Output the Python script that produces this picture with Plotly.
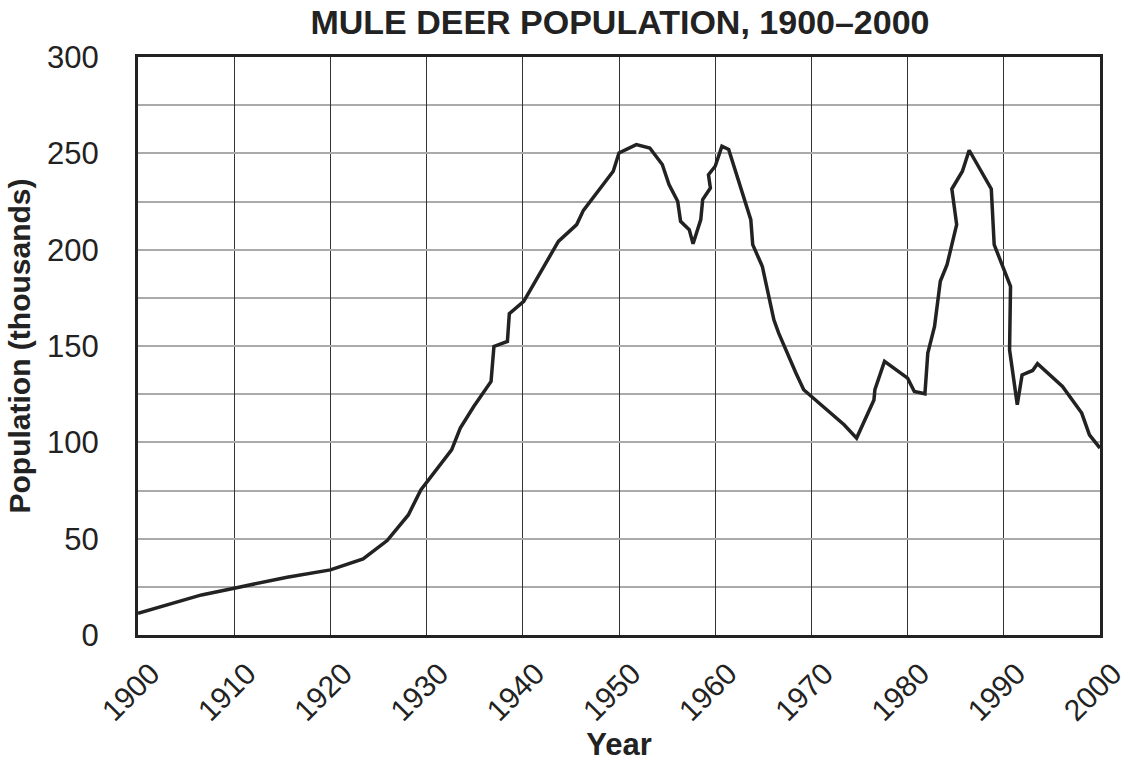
import plotly.graph_objects as go

years = [1900, 1906.6, 1910, 1915.5, 1920, 1923.4, 1925.9, 1928.1, 1929.4, 1932.6, 1933.5,
         1934.9, 1936.7, 1937.0, 1938.4, 1938.6, 1940.1, 1943.7, 1945.6, 1946.3, 1949.4,
         1950.0, 1951.8, 1953.2, 1954.5, 1955.2, 1956.1, 1956.4, 1957.3, 1957.7, 1958.5,
         1958.7, 1959.5, 1959.3, 1960.0, 1960.7, 1961.4, 1963.7, 1963.9, 1964.9, 1966.1,
         1966.6, 1968.4, 1969.2, 1971.0, 1973.4, 1974.7, 1976.5, 1976.6, 1977.6, 1980.0,
         1980.7, 1981.8, 1982.1, 1982.8, 1983.4, 1984.1, 1985.1, 1984.6, 1985.7, 1986.4,
         1988.7, 1989.0, 1990.7, 1990.6, 1991.4, 1991.9, 1993.0, 1993.5, 1996.1, 1998.1,
         1998.9, 2000.0]
population = [11.3, 20.8, 24.3, 30.0, 33.8, 39.5, 49.0, 62.3, 75.3, 96.1, 107.4,
              118.6, 131.6, 149.8, 152.4, 166.8, 173.2, 204.3, 213.0, 220.4, 240.7,
              250.2, 254.5, 252.8, 244.2, 233.8, 225.1, 214.7, 210.4, 203.1, 215.6,
              226.0, 232.0, 238.9, 243.3, 253.7, 252.0, 215.6, 202.6, 191.3, 163.6,
              156.7, 135.9, 127.3, 119.5, 109.1, 102.2, 122.0, 127.3, 142.0, 133.3,
              126.4, 125.2, 146.3, 160.2, 183.6, 192.2, 213.0, 231.5, 240.7, 251.6,
              231.5, 202.6, 181.0, 148.0, 119.5, 135.0, 137.3, 140.8, 129.0, 115.2,
              103.9, 97.0]

x_ticks = list(range(1900, 2001, 10))
x_tick_labels = [str(t) for t in x_ticks]
y_ticks = list(range(0, 301, 50))
y_tick_labels = [str(t) for t in y_ticks]

FONT = "Liberation Sans, Arial, sans-serif"
INK = "#222222"

fig = go.Figure()
fig.add_trace(go.Scatter(x=years, y=population, mode="lines",
                         line=dict(color=INK, width=3.5),
                         showlegend=False, hoverinfo="skip"))

fig.update_layout(
    width=1128, height=770,
    margin=dict(l=138, r=28, t=57, b=135),
    paper_bgcolor="white", plot_bgcolor="white",
    title=dict(text="<b>MULE DEER POPULATION, 1900–2000</b>",
               x=0.5496, xanchor="center", y=0.9714, yanchor="middle",
               font=dict(family=FONT, size=34, color=INK)),
    font=dict(family=FONT, color=INK),
)
fig.update_xaxes(
    range=[1900, 2000], tickvals=x_ticks, ticktext=x_tick_labels,
    tickangle=-45, tickfont=dict(size=30, color=INK),
    ticklabelshift=13, ticklabelstandoff=6, automargin=False,
    showgrid=True, gridcolor="#333333", gridwidth=1.3,
    showline=True, linecolor=INK, linewidth=3, mirror=True,
    ticks="", zeroline=False,
    title=dict(text="<b>Year</b>", font=dict(size=31, color=INK), standoff=8),
)
fig.update_yaxes(
    range=[0, 300], tickvals=y_ticks, ticktext=y_tick_labels,
    tickfont=dict(size=31, color=INK), ticklabelstandoff=30, automargin=False,
    showgrid=True, gridcolor="#aaaaaa", gridwidth=1.6,
    minor=dict(dtick=25, showgrid=True, gridcolor="#aaaaaa", gridwidth=1.6),
    showline=True, linecolor=INK, linewidth=3, mirror=True,
    ticks="", zeroline=False,
    title=dict(text="<b>Population (thousands)</b>", font=dict(size=30, color=INK), standoff=8),
)

fig.write_html("out.html", config={"displayModeBar": False},
               post_script="document.body.style.margin='0';")
